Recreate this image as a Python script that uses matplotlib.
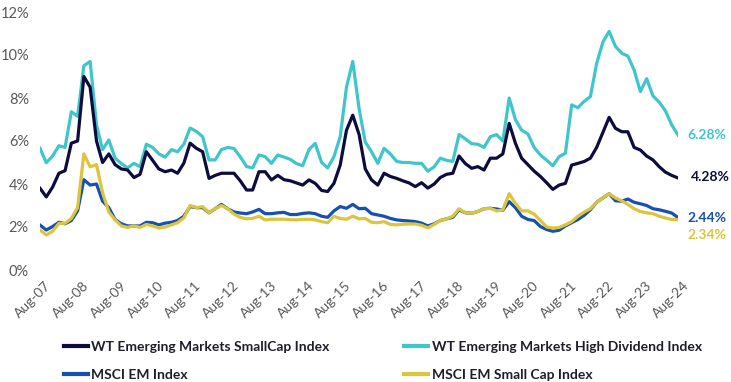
import pandas as pd
import matplotlib.pyplot as plt
from matplotlib.lines import Line2D
from matplotlib.transforms import ScaledTranslation

plt.rcParams['font.family'] = ['Lato', 'DejaVu Sans']

# bimonthly readings, Aug-07 .. Aug-24
dates = pd.date_range('2007-08-01', '2024-08-01', freq='2MS')

wt_smallcap = [3.8, 3.4, 3.85, 4.5, 4.62, 5.9, 6.0, 9.0, 8.5, 6.0, 5.0, 5.4,
               4.9, 4.7, 4.65, 4.3, 4.45, 5.5, 5.1, 4.7, 4.57, 4.65, 4.5, 4.97,
               5.9, 5.66, 5.5, 4.26, 4.4, 4.5, 4.5, 4.5, 4.15, 3.72, 3.72, 4.57,
               4.57, 4.19, 4.4, 4.2, 4.15, 4.05, 3.95, 4.19, 4.03, 3.7, 3.65, 4.03,
               4.88, 6.5, 7.2, 6.3, 4.7, 4.19, 3.95, 4.5, 4.35, 4.26, 4.15, 4.05,
               3.88, 4.06, 3.81, 4.0, 4.3, 4.45, 4.5, 5.3, 4.95, 4.73, 4.81, 4.65,
               5.2, 5.2, 5.4, 6.82, 5.9, 5.2, 4.9, 4.6, 4.35, 4.05, 3.75, 3.95,
               4.03, 4.88, 4.96, 5.05, 5.2, 5.7, 6.4, 7.1, 6.59, 6.43, 6.43, 5.7,
               5.58, 5.3, 5.12, 4.8, 4.55, 4.4, 4.28]

wt_high_div = [5.66, 4.99, 5.3, 5.78, 5.7, 7.36, 7.15, 9.5, 9.7, 6.75, 5.6, 6.05,
               5.2, 4.95, 4.75, 4.96, 4.8, 5.85, 5.7, 5.4, 5.25, 5.6, 5.5, 5.85,
               6.6, 6.45, 6.2, 5.12, 5.12, 5.6, 5.7, 5.65, 5.27, 4.81, 4.75, 5.35,
               5.27, 4.96, 5.35, 5.25, 5.15, 4.95, 4.85, 5.6, 5.89, 5.0, 4.75, 5.27,
               6.2, 8.5, 9.7, 7.5, 5.95, 5.5, 4.96, 5.66, 5.4, 5.05, 5.0, 5.0,
               4.96, 4.96, 4.6, 4.8, 5.2, 5.1, 5.05, 6.3, 6.1, 5.87, 5.85, 5.7,
               6.2, 6.3, 6.0, 8.0, 7.0, 6.5, 6.33, 5.7, 5.35, 5.1, 4.85, 5.27,
               5.43, 7.68, 7.55, 7.85, 8.06, 9.6, 10.6, 11.1, 10.4, 10.08, 9.95, 9.3,
               8.3, 8.9, 8.1, 7.8, 7.4, 6.75, 6.28]

msci_em = [2.09, 1.86, 2.02, 2.22, 2.15, 2.3, 2.75, 4.2, 3.95, 4.0, 3.2, 2.9,
           2.35, 2.15, 2.05, 2.05, 2.05, 2.22, 2.2, 2.1, 2.18, 2.22, 2.3, 2.5,
           2.95, 2.9, 2.9, 2.66, 2.85, 3.05, 2.85, 2.7, 2.65, 2.62, 2.7, 2.82,
           2.62, 2.62, 2.66, 2.68, 2.58, 2.58, 2.63, 2.66, 2.62, 2.5, 2.45, 2.75,
           2.95, 2.87, 3.05, 2.85, 2.87, 2.62, 2.56, 2.5, 2.4, 2.33, 2.3, 2.28,
           2.25, 2.18, 2.05, 2.15, 2.3, 2.38, 2.45, 2.8, 2.66, 2.64, 2.72, 2.85,
           2.87, 2.84, 2.78, 3.18, 2.9, 2.5, 2.35, 2.3, 2.02, 1.88, 1.8, 1.85,
           2.05, 2.2, 2.35, 2.55, 2.8, 3.15, 3.35, 3.55, 3.22, 3.2, 3.3, 3.15,
           3.08, 3.0, 2.85, 2.8, 2.73, 2.65, 2.44]

msci_em_small = [1.86, 1.63, 1.8, 2.17, 2.17, 2.4, 2.9, 5.4, 4.8, 4.9, 3.6, 2.7,
                 2.33, 2.05, 1.98, 2.05, 1.98, 2.12, 2.05, 1.95, 2.0, 2.1, 2.2, 2.42,
                 3.0, 2.9, 2.95, 2.66, 2.85, 3.0, 2.85, 2.6, 2.45, 2.38, 2.4, 2.5,
                 2.33, 2.36, 2.36, 2.36, 2.34, 2.33, 2.35, 2.36, 2.33, 2.25, 2.2, 2.5,
                 2.4, 2.36, 2.5, 2.38, 2.4, 2.22, 2.2, 2.25, 2.12, 2.1, 2.13, 2.14,
                 2.14, 2.08, 1.96, 2.12, 2.3, 2.38, 2.5, 2.85, 2.66, 2.64, 2.72, 2.85,
                 2.87, 2.75, 2.8, 3.55, 3.1, 2.75, 2.75, 2.6, 2.3, 2.0, 1.95, 1.98,
                 2.1, 2.25, 2.5, 2.7, 2.85, 3.15, 3.35, 3.55, 3.35, 3.22, 3.05, 2.85,
                 2.72, 2.66, 2.62, 2.5, 2.42, 2.35, 2.34]

names = ['WT Emerging Markets SmallCap Index', 'MSCI EM Index',
         'WT Emerging Markets High Dividend Index', 'MSCI EM Small Cap Index']
navy, cyan, blue, yellow = '#0c0c3e', '#3ec6cc', '#1650b0', '#dcc53c'

tick_dates = pd.date_range('2007-08-01', '2024-08-01', freq='12MS')
tick_labels = [d.strftime('%b-%y') for d in tick_dates]

fig = plt.figure(figsize=(7.31, 3.82), dpi=100)
ax = fig.add_axes([40/731, 112/382, 638/731, 258/382])

lw = 2.3
ax.plot(dates, wt_high_div, color=cyan, lw=lw)
ax.plot(dates, wt_smallcap, color=navy, lw=lw)
ax.plot(dates, msci_em, color=blue, lw=lw)
ax.plot(dates, msci_em_small, color=yellow, lw=lw)

ax.set_xlim(dates[0], dates[-1])
ax.set_ylim(0, 12)
ax.set_yticks(range(0, 13, 2))
ax.set_yticklabels([f'{v}%' for v in range(0, 13, 2)])
ax.set_xticks(tick_dates)
ax.set_xticklabels(tick_labels, rotation=45, ha='right', va='top', rotation_mode='anchor')
ax.tick_params(axis='both', length=0, labelcolor='#595959')
ax.tick_params(axis='y', pad=8, labelsize=10.5)
ax.tick_params(axis='x', pad=7, labelsize=10)
shift = ScaledTranslation(5/100, 0, fig.dpi_scale_trans)
for lab in ax.get_xticklabels():
    lab.set_transform(lab.get_transform() + shift)
for s in ax.spines.values():
    s.set_visible(False)

# end-of-line value labels
ends = [(wt_high_div, cyan, 6.5, 0), (wt_smallcap, navy, 9, 1),
        (msci_em, blue, 6.5, 0), (msci_em_small, yellow, 6.5, -11)]
for ser, c, dx, dy in ends:
    ax.annotate(f'{ser[-1]:.2f}%', xy=(dates[-1], ser[-1]), xytext=(dx, dy),
                textcoords='offset points', va='center', ha='left', color=c,
                fontsize=10, fontweight='bold', annotation_clip=False)

handles = [Line2D([], [], color=navy, lw=3), Line2D([], [], color=blue, lw=3),
           Line2D([], [], color=cyan, lw=3), Line2D([], [], color=yellow, lw=3)]
fig.legend(handles, names, ncol=2, loc='upper left', bbox_to_anchor=(64/731, 1 - 341/382),
           frameon=False, prop={'weight': 'bold', 'size': 10}, labelcolor='#1e1e2a',
           handlelength=1.7, handletextpad=0.25, columnspacing=5.4, labelspacing=1.15,
           borderaxespad=0, borderpad=0)

fig.savefig('out.png', dpi=100)
